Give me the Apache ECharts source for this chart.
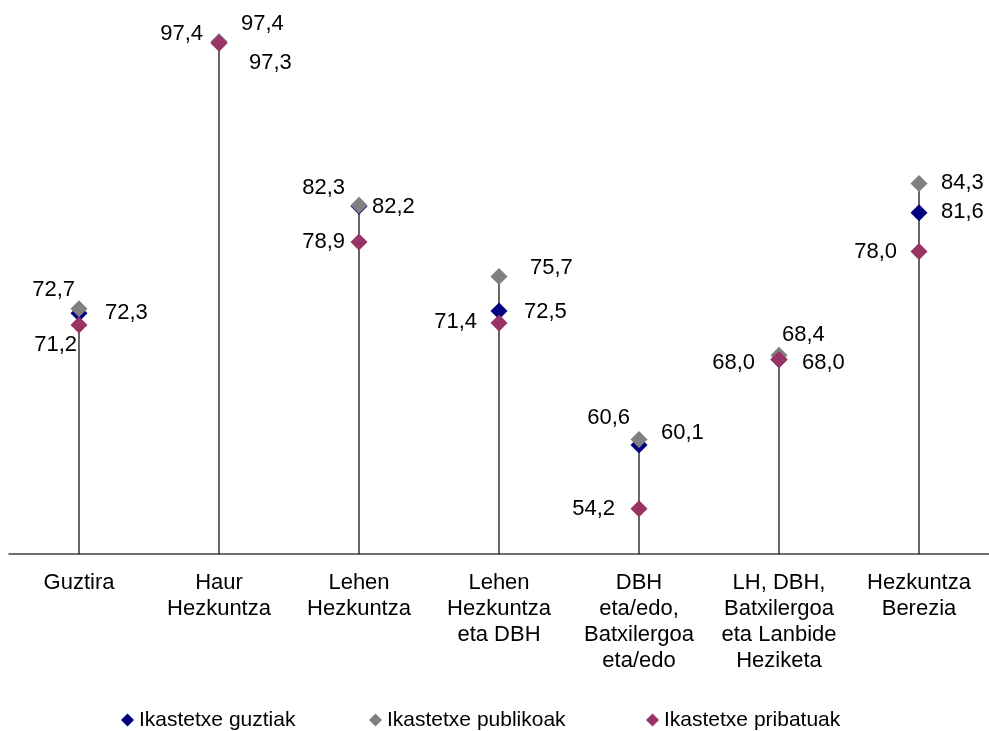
<!DOCTYPE html>
<html>
<head>
<meta charset="utf-8">
<script src="https://cdn.jsdelivr.net/npm/echarts@6/dist/echarts.min.js"></script>
<style>
html,body{margin:0;padding:0;background:#fff;}
#chart{width:989px;height:731px;}
</style>
</head>
<body>
<div id="chart"></div>
<script>
const categories = [
  'Guztira',
  'Haur\nHezkuntza',
  'Lehen\nHezkuntza',
  'Lehen\nHezkuntza\neta DBH',
  'DBH\neta/edo,\nBatxilergoa\neta/edo',
  'LH, DBH,\nBatxilergoa\neta Lanbide\nHeziketa',
  'Hezkuntza\nBerezia'
];
const seriesNames = ['Ikastetxe guztiak', 'Ikastetxe publikoak', 'Ikastetxe pribatuak'];
const guztiak    = [72.3, 97.4, 82.2, 72.5, 60.1, 68.0, 81.6];
const publikoak  = [72.7, 97.4, 82.3, 75.7, 60.6, 68.4, 84.3];
const pribatuak  = [71.2, 97.3, 78.9, 71.4, 54.2, 68.0, 78.0];

// label placement (style only): [dx, dy, align] relative to the marker centre
const placeGuztiak = [
  [26, 0, 'left'], [22, -18, 'left'], [13, 1, 'left'], [25, 1, 'left'],
  [22, -12, 'left'], [23, 3, 'left'], [22, -1, 'left']
];
const placePublikoak = [
  [-4, -19, 'right'], [-16, -8, 'right'], [-14, -17, 'right'], [31, -9, 'left'],
  [-9, -22, 'right'], [3, -20, 'left'], [22, -1, 'left']
];
const placePribatuak = [
  [-2, 20, 'right'], [30, 20, 'left'], [-14, 0, 'right'], [-22, -1, 'right'],
  [-24, 0, 'right'], [-24, 3, 'right'], [-22, 0, 'right']
];
const legendLefts = [121, 369, 646];

const colors = ['#000080', '#808080', '#993366'];
const FONT = 'Liberation Sans, Arial, sans-serif';
const fmt = v => v.toFixed(1).replace('.', ',');

function buildData(values, places) {
  return values.map((v, i) => ({
    value: v,
    label: {
      show: true,
      position: 'inside',
      offset: [places[i][0], places[i][1]],
      align: places[i][2],
      verticalAlign: 'middle',
      formatter: () => fmt(v),
      color: '#000',
      fontSize: 22,
      fontFamily: FONT
    }
  }));
}

const dropValues = categories.map((_, i) => Math.max(guztiak[i], publikoak[i], pribatuak[i]));

const chart = echarts.init(document.getElementById('chart'), null, {renderer: 'canvas'});
const valueSets = [guztiak, publikoak, pribatuak];
const placeSets = [placeGuztiak, placePublikoak, placePribatuak];

chart.setOption({
  animation: false,
  backgroundColor: '#fff',
  grid: {left: 9, right: 0, top: 14, bottom: 177, containLabel: false},
  xAxis: {
    type: 'category',
    data: categories,
    boundaryGap: true,
    axisLine: {show: true, lineStyle: {color: '#404040', width: 1.5}},
    axisTick: {show: false},
    axisLabel: {
      interval: 0, margin: 16, color: '#000', fontSize: 22, lineHeight: 26, fontFamily: FONT
    }
  },
  yAxis: {
    type: 'value', min: 50, max: 100, interval: 10,
    show: false, splitLine: {show: false}
  },
  legend: seriesNames.map((n, i) => ({
    data: [{name: n, icon: 'diamond'}],
    left: legendLefts[i], top: 709, padding: 0,
    itemWidth: 13, itemHeight: 13, itemGap: 0,
    textStyle: {color: '#000', fontSize: 21, lineHeight: 22, fontFamily: FONT}
  })),
  series: [
    {
      type: 'bar', name: 'drop', data: dropValues, barWidth: 1.2,
      itemStyle: {color: '#000'}, silent: true, z: 1,
      legendHoverLink: false
    }
  ].concat(seriesNames.map((n, k) => ({
    type: 'scatter', name: n, symbol: 'diamond', symbolSize: 17,
    itemStyle: {color: colors[k], opacity: 1},
    data: buildData(valueSets[k], placeSets[k]),
    z: 2 + k
  })))
});
</script>
</body>
</html>
